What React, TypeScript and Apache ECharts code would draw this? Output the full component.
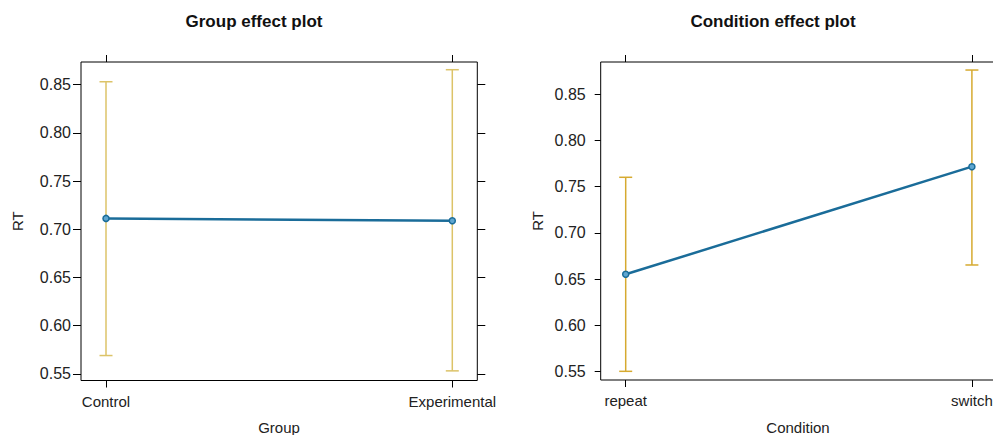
import React, { useEffect, useRef } from "react";
import * as echarts from "echarts";

// Group effect plot data
const groupCategories = ["Control", "Experimental"];
const groupFit = [0.7113, 0.7088];
const groupLower = [0.569, 0.5531];
const groupUpper = [0.8531, 0.8656];

// Condition effect plot data
const conditionCategories = ["repeat", "switch"];
const conditionFit = [0.6551, 0.7717];
const conditionLower = [0.55, 0.6652];
const conditionUpper = [0.7602, 0.8764];

const yTicks = [0.55, 0.6, 0.65, 0.7, 0.75, 0.8, 0.85];
const xPositions = [1, 2];

const FONT = "'Liberation Sans', Arial, Helvetica, sans-serif";
const LINE_BLUE = "#1a6c99";
const POINT_FILL = "#5fa6d0";
const TEXT = "#222";

function errorBarSeries(
  gridIdx: number,
  lower: number[],
  upper: number[],
  color: string
) {
  return {
    type: "custom",
    xAxisIndex: gridIdx * 2,
    yAxisIndex: gridIdx * 2,
    clip: false,
    z: 2,
    data: xPositions.map((x, i) => [x, lower[i], upper[i]]),
    renderItem: (_params: any, api: any) => {
      const x = api.value(0);
      const lo = api.coord([x, api.value(1)]);
      const hi = api.coord([x, api.value(2)]);
      const half = 6.5;
      const style = { stroke: color, lineWidth: 1.5 };
      return {
        type: "group",
        children: [
          { type: "line", shape: { x1: lo[0], y1: lo[1], x2: hi[0], y2: hi[1] }, style },
          { type: "line", shape: { x1: lo[0] - half, y1: lo[1], x2: lo[0] + half, y2: lo[1] }, style },
          { type: "line", shape: { x1: hi[0] - half, y1: hi[1], x2: hi[0] + half, y2: hi[1] }, style },
        ],
      };
    },
  };
}

function fitSeries(gridIdx: number, fit: number[]) {
  return {
    type: "line",
    xAxisIndex: gridIdx * 2,
    yAxisIndex: gridIdx * 2,
    z: 3,
    data: xPositions.map((x, i) => [x, fit[i]]),
    symbol: "circle",
    symbolSize: 6,
    lineStyle: { color: LINE_BLUE, width: 2.5 },
    itemStyle: { color: POINT_FILL, borderColor: LINE_BLUE, borderWidth: 1.5 },
  };
}

function xAxes(gridIdx: number, cats: string[], tickLen: number) {
  const common = {
    type: "value",
    gridIndex: gridIdx,
    min: 0.9278,
    max: 2.0722,
    splitLine: { show: false },
    axisLine: { show: false },
  };
  return [
    {
      ...common,
      position: "bottom",
      axisTick: {
        show: true,
        length: tickLen,
        lineStyle: { color: "#000" },
        customValues: xPositions,
      },
      axisLabel: {
        show: true,
        margin: 13,
        fontFamily: FONT,
        fontSize: 15,
        color: TEXT,
        customValues: xPositions,
        formatter: (v: number) => cats[Math.round(v) - 1] ?? "",
      },
    },
    {
      ...common,
      position: "top",
      axisTick: {
        show: true,
        length: tickLen,
        lineStyle: { color: "#000" },
        customValues: xPositions,
      },
      axisLabel: { show: false },
    },
  ];
}

function yAxes(
  gridIdx: number,
  min: number,
  max: number,
  labelMargin: number,
  nameGap: number,
  tickLen: number
) {
  const common = {
    type: "value",
    gridIndex: gridIdx,
    min,
    max,
    splitLine: { show: false },
    axisLine: { show: false },
  };
  return [
    {
      ...common,
      position: "left",
      name: "RT",
      nameLocation: "middle",
      nameGap,
      nameTextStyle: { fontFamily: FONT, fontSize: 15, color: TEXT },
      axisTick: {
        show: true,
        length: tickLen,
        lineStyle: { color: "#000" },
        customValues: yTicks,
      },
      axisLabel: {
        show: true,
        margin: labelMargin,
        fontFamily: FONT,
        fontSize: 16,
        color: TEXT,
        customValues: yTicks,
        formatter: (v: number) => v.toFixed(2),
      },
    },
    {
      ...common,
      position: "right",
      axisTick: {
        show: true,
        length: tickLen,
        lineStyle: { color: "#000" },
        customValues: yTicks,
      },
      axisLabel: { show: false },
    },
  ];
}

function label(text: string, x: number, y: number, font: string, fill: string) {
  return {
    type: "text",
    x,
    y,
    style: { text, font, fill, textAlign: "center", textVerticalAlign: "middle" },
  };
}

export default function App() {
  const ref = useRef<HTMLDivElement>(null);

  useEffect(() => {
    if (!ref.current) return;
    const chart = echarts.init(ref.current, undefined, { renderer: "svg" });
    chart.setOption({
      animation: false,
      backgroundColor: "#fff",
      grid: [
        {
          left: 81,
          right: 515.7,
          top: 62,
          bottom: 54.5,
          outerBoundsMode: "none",
          containLabel: false,
          show: true,
          borderColor: "#000",
          borderWidth: 1,
          backgroundColor: "transparent",
        },
        {
          left: 600.7,
          right: -3.9,
          top: 62,
          bottom: 55,
          outerBoundsMode: "none",
          containLabel: false,
          show: true,
          borderColor: "#000",
          borderWidth: 1,
          backgroundColor: "transparent",
        },
      ],
      xAxis: [
        ...xAxes(0, groupCategories, 7),
        ...xAxes(1, conditionCategories, 7),
      ],
      yAxis: [
        ...yAxes(0, 0.5431, 0.8736, 10, 56, 8),
        ...yAxes(1, 0.5406, 0.8851, 15, 56, 6),
      ],
      graphic: [
        label("Group effect plot", 254, 21, `bold 17px ${FONT}`, "#111"),
        label("Condition effect plot", 773, 21, `bold 17px ${FONT}`, "#111"),
        label("Group", 279, 427, `15px ${FONT}`, TEXT),
        label("Condition", 798, 427, `15px ${FONT}`, TEXT),
      ],
      series: [
        errorBarSeries(0, groupLower, groupUpper, "#dcc368"),
        fitSeries(0, groupFit),
        errorBarSeries(1, conditionLower, conditionUpper, "#d6aa30"),
        fitSeries(1, conditionFit),
      ],
    });
    return () => chart.dispose();
  }, []);

  return (
    <div
      ref={ref}
      style={{ position: "absolute", left: 0, top: 0, width: 993, height: 435 }}
    />
  );
}
